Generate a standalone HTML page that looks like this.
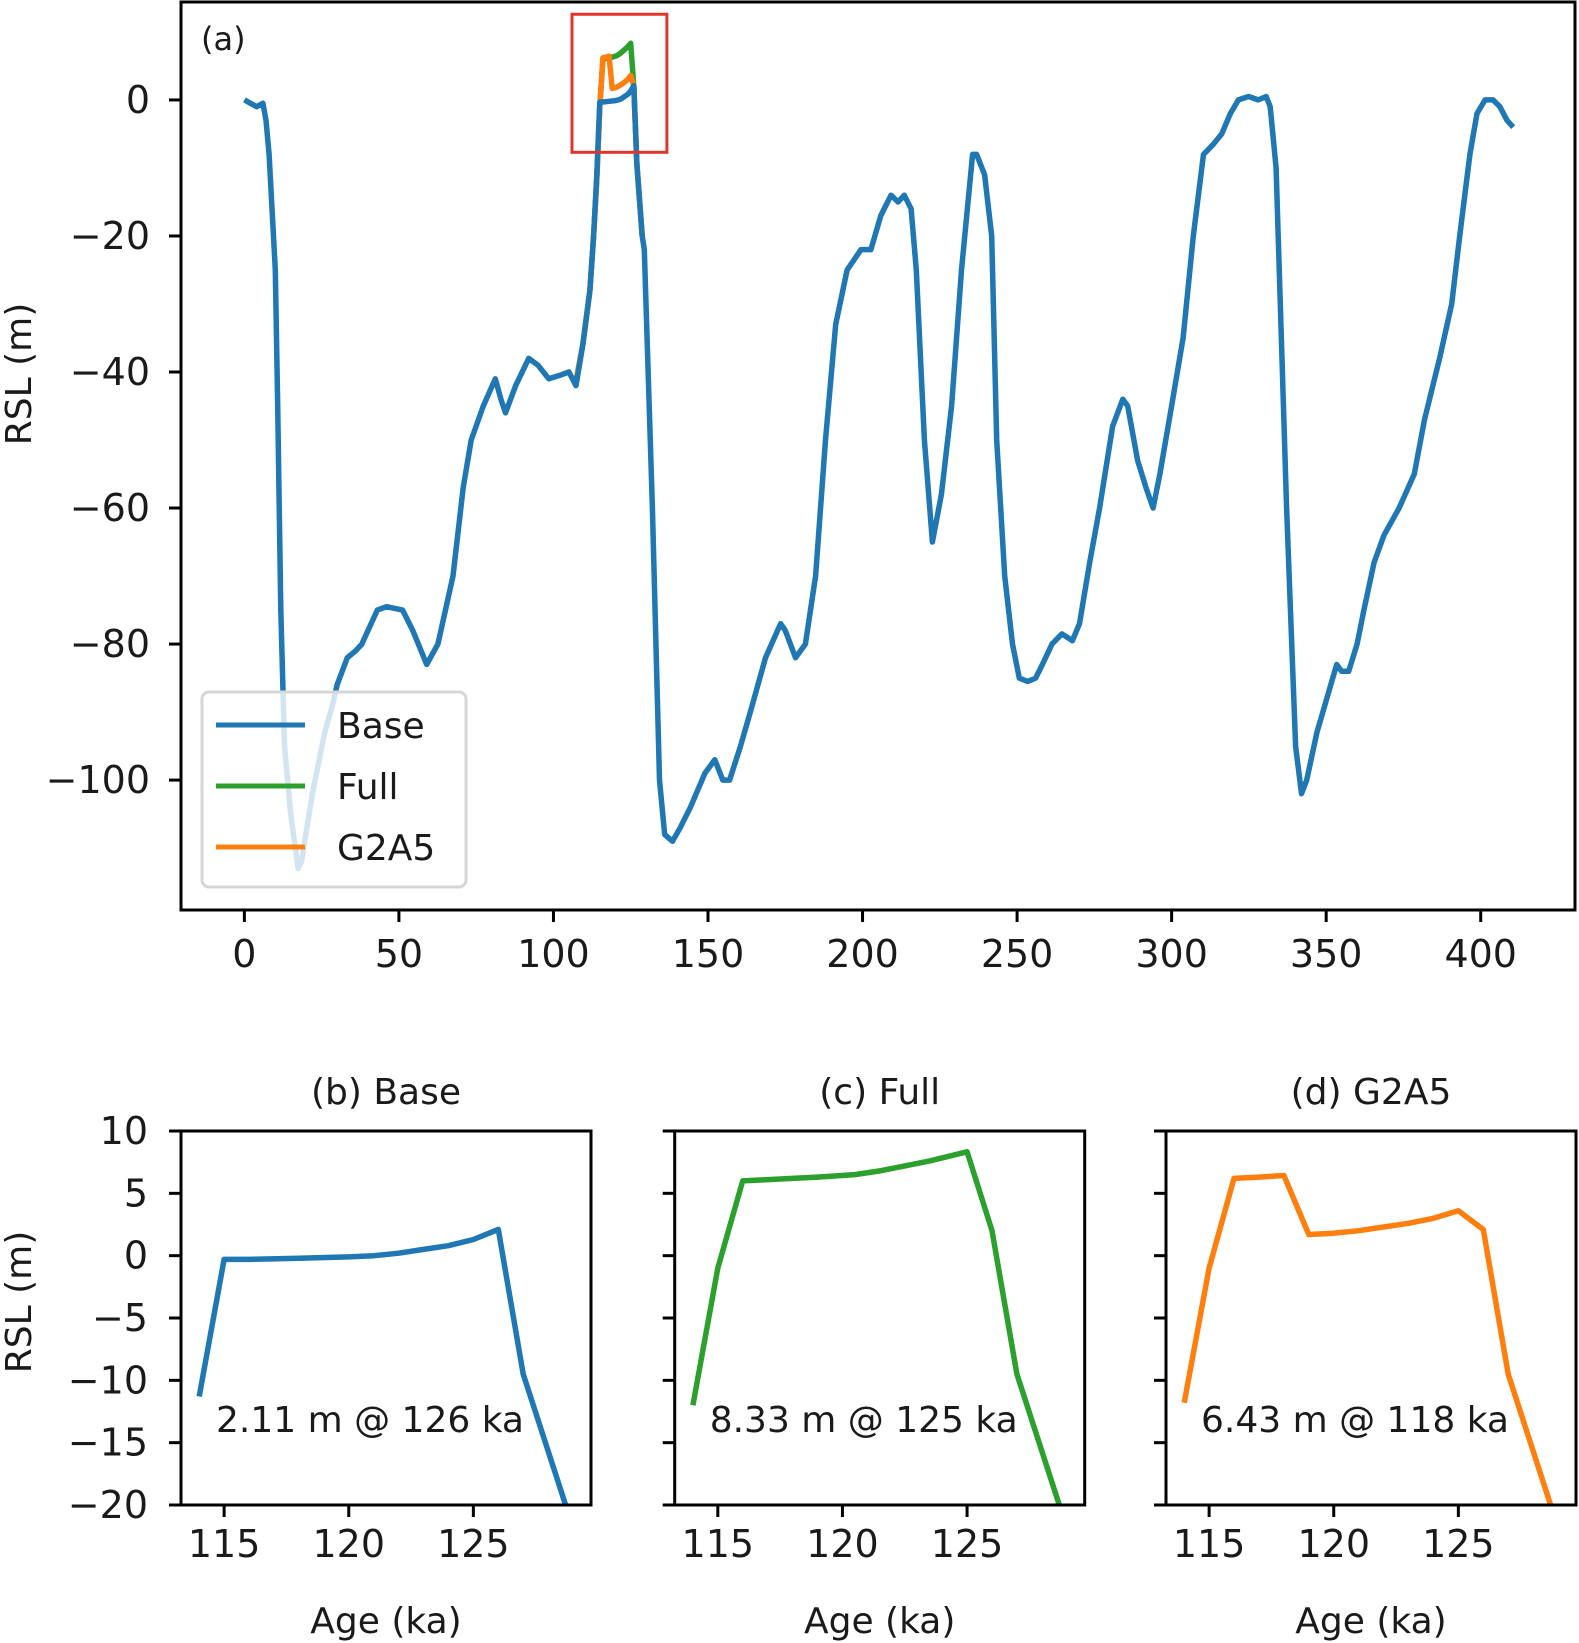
<!DOCTYPE html>
<html><head><meta charset="utf-8"><style>
html,body{margin:0;padding:0;background:#fff}
svg{display:block}
text{font-family:"DejaVu Sans","Liberation Sans",sans-serif;fill:#1a1a1a}
</style></head><body>
<svg id="fig" width="1579" height="1643" viewBox="0 0 1579 1643" xmlns="http://www.w3.org/2000/svg"></svg>
<script>
// ---- data ----
const baseAges=[0,2,4,6,7,8,10,10.8,11.8,13,15,17.4,18.5,22,26,28.5,30,33.3,36,38,43,46,51.2,54.5,59,62.6,67.5,70.8,73.4,77.3,81.2,83,84.5,87.8,92,95,98.5,102,105,107.3,109.5,111.8,113,114,115,116,118,120,121,122,123,124,125,126,127,128.7,129.4,132,134.3,136,138.5,141,144.3,149,152.2,154.8,157,160.5,163.7,168.6,173.5,175,178.3,181.5,184.8,188,191.3,195,199.5,202.7,205.9,209.2,211.5,213.5,215.7,217.4,220,222.6,225.5,228.8,232,235.6,236.9,239.5,241.8,243.4,246,248.5,250.7,253.4,256,258.2,261.3,264.5,267.9,270.2,273.5,276.7,280.9,284.2,285.8,289,291.7,294,296.2,300,303.7,307,310.3,313.5,316.2,319,321.6,324.9,328,330.6,331.9,333.8,337.2,340.1,342,343.7,347,350.2,353.4,355,357.3,360,362.2,365.5,368.7,373.6,378.5,381.8,386.7,390.6,393.2,396.5,398.8,401.4,404,406.2,408.5,410.5];
const baseVals=[0,-0.5,-1,-0.5,-3,-8,-25,-45,-75,-95,-105,-113,-112,-102,-93,-89,-86,-82,-81,-80,-75,-74.5,-75,-78,-83,-80,-70,-57,-50,-45,-41,-44,-46,-42,-38,-39,-41,-40.5,-40,-42,-36,-28,-20,-11.3,-0.3,-0.3,-0.2,-0.1,0,0.2,0.5,0.8,1.3,2.11,-9.5,-20,-22,-60,-100,-108,-109,-107,-104,-99,-97,-100,-100,-95,-90,-82,-77,-78,-82,-80,-70,-50,-33,-25,-22,-22,-17,-14,-15,-14,-16,-25,-50,-65,-58,-45,-25,-8,-8,-11,-20,-50,-70,-80,-85,-85.5,-85,-83,-80,-78.5,-79.5,-77,-68,-60,-48,-44,-45,-53,-57,-60,-55,-45,-35,-20,-8,-6.5,-5,-2,0,0.5,0,0.5,-1,-10,-60,-95,-102,-100,-93,-88,-83,-84,-84,-80,-75,-68,-64,-60,-55,-47,-38,-30,-20,-8,-2,0,0,-1,-3,-4];
const fullAges=[107,109.5,111.8,113,114,115,116,117,119,120.5,121.5,122.5,123.5,125,126,127,128.7];
const fullVals=[-42,-36,-28,-20,-12,-1,6,6.1,6.3,6.5,6.8,7.2,7.6,8.33,2,-9.5,-20];
const g2Ages=[107,109.5,111.8,113,114,115,116,117,118,119,120,121,122,123,124,125,126,127,128.7];
const g2Vals=[-42,-36,-28,-20,-11.8,-1,6.2,6.3,6.43,1.7,1.8,2.0,2.3,2.6,3.0,3.6,2.1,-9.5,-20];
const mainXTicks=[0,50,100,150,200,250,300,350,400];
const mainYTicks=[0,-20,-40,-60,-80,-100];
const insetXTicks=[115,120,125];
const insetYTicks=[10,5,0,-5,-10,-15,-20];
const annotations=["2.11 m @ 126 ka","8.33 m @ 125 ka","6.43 m @ 118 ka"];
const titles=["(b) Base","(c) Full","(d) G2A5"];

const NS="http://www.w3.org/2000/svg";
const svg=document.getElementById('fig');
function el(tag,attrs,parent,txt){const e=document.createElementNS(NS,tag);for(const k in attrs)e.setAttribute(k,attrs[k]);if(txt!==undefined)e.textContent=txt;(parent||svg).appendChild(e);return e;}
function fmt(v){return v<0?'\u2212'+Math.abs(v):String(v);}
function pathD(xs,ys,sx,sy){return xs.map((x,i)=>(i?'L':'M')+sx(x).toFixed(1)+','+sy(ys[i]).toFixed(1)).join('');}

// ---- main panel ----
const M={l:181,r:1575,t:2,b:910,x0:-20.5,x1:430.5,y0:-119.1,y1:14.4};
const mx=v=>M.l+(v-M.x0)/(M.x1-M.x0)*(M.r-M.l);
const my=v=>M.b-(v-M.y0)/(M.y1-M.y0)*(M.b-M.t);
const gA=el('g',{});

el('defs',{},gA).innerHTML='<clipPath id="cA"><rect x="181" y="2" width="1394" height="908"/></clipPath>';
const lines=el('g',{'clip-path':'url(#cA)'},gA);
let p=el('path',{d:pathD(fullAges,fullVals,mx,my),fill:'none',stroke:'#2ca02c','stroke-width':5.5,'stroke-linejoin':'round'},lines);

p=el('path',{d:pathD(g2Ages,g2Vals,mx,my),fill:'none',stroke:'#ff7f0e','stroke-width':5.5,'stroke-linejoin':'round'},lines);

p=el('path',{d:pathD(baseAges,baseVals,mx,my),fill:'none',stroke:'#1f77b4','stroke-width':5.5,'stroke-linejoin':'round'},lines);

p=el('rect',{x:mx(106),y:my(12.6),width:mx(136.7)-mx(106),height:my(-7.7)-my(12.6),fill:'none',stroke:'#e0352b','stroke-width':3},gA);

p=el('rect',{x:M.l,y:M.t,width:M.r-M.l,height:M.b-M.t,fill:'none',stroke:'#000','stroke-width':3},gA);

mainXTicks.forEach(v=>{const x=mx(v);el('line',{x1:x,x2:x,y1:M.b,y2:M.b+12,stroke:'#000','stroke-width':3},gA);
 const t=el('text',{x:x,y:967,'font-size':38,'text-anchor':'middle'},gA,fmt(v));
 });
mainYTicks.forEach(v=>{const y=my(v);el('line',{x1:M.l-12,x2:M.l,y1:y,y2:y,stroke:'#000','stroke-width':3},gA);
 const t=el('text',{x:150,y:y+13,'font-size':38,'text-anchor':'end'},gA,fmt(v));
 });
p=el('text',{x:0,y:0,'font-size':36,'text-anchor':'middle',transform:'translate(31,374) rotate(-90)'},gA,'RSL (m)');

p=el('text',{x:201,y:50,'font-size':32},gA,'(a)');

const lg=el('g',{},gA);

el('rect',{x:202,y:692,width:264,height:195,rx:7,fill:'#fff','fill-opacity':0.8,stroke:'#d6d6d6','stroke-width':3},lg);
[['Base','#1f77b4',725],['Full','#2ca02c',786],['G2A5','#ff7f0e',847]].forEach(e=>{
 const g=el('g',{},lg);
 
 el('line',{x1:216,x2:305,y1:e[2],y2:e[2],stroke:e[1],'stroke-width':5},g);
 el('text',{x:337,y:e[2]+13,'font-size':36},g,e[0]);
});

// ---- inset panels ----
const insetData=[[baseAges,baseVals,'#1f77b4'],[fullAges,fullVals,'#2ca02c'],[g2Ages,g2Vals,'#ff7f0e']];
const lefts=[181,674.7,1166];
insetData.forEach((d,i)=>{
 const L=lefts[i],R=L+410,T=1131,B=1505,X0=113.27,X1=129.72,Y0=-20,Y1=10;
 const sx=v=>L+(v-X0)/(X1-X0)*(R-L), sy=v=>B-(v-Y0)/(Y1-Y0)*(B-T);
 const g=el('g',{});
 
 el('defs',{},g).innerHTML='<clipPath id="ci'+i+'"><rect x="'+L+'" y="'+T+'" width="'+(R-L)+'" height="'+(B-T)+'"/></clipPath>';
 const xs=[],ys=[];d[0].forEach((a,k)=>{if(a>=114&&a<=130){xs.push(a);ys.push(d[1][k]);}});
 const ln=el('path',{d:pathD(xs,ys,sx,sy),fill:'none',stroke:d[2],'stroke-width':5.5,'stroke-linejoin':'round','clip-path':'url(#ci'+i+')'},g);
 
 el('rect',{x:L,y:T,width:R-L,height:B-T,fill:'none',stroke:'#000','stroke-width':3},g);
 insetXTicks.forEach(v=>{const x=sx(v);el('line',{x1:x,x2:x,y1:B,y2:B+12,stroke:'#000','stroke-width':3},g);
  const t=el('text',{x:x,y:1557,'font-size':38,'text-anchor':'middle'},g,String(v));
  });
 insetYTicks.forEach(v=>{const y=sy(v);el('line',{x1:L-12,x2:L,y1:y,y2:y,stroke:'#000','stroke-width':3},g);
  if(i===0){const t=el('text',{x:148,y:y+13,'font-size':38,'text-anchor':'end'},g,fmt(v));
  }});
 let t=el('text',{x:(L+R)/2,y:1104,'font-size':36,'text-anchor':'middle'},g,titles[i]);
 
 t=el('text',{x:(L+R)/2,y:1633,'font-size':36,'text-anchor':'middle'},g,'Age (ka)');
 
 t=el('text',{x:L+35,y:1432,'font-size':36,fill:'#262626'},g,annotations[i]);
 
});
p=el('text',{x:0,y:0,'font-size':36,'text-anchor':'middle',transform:'translate(31,1302) rotate(-90)'},svg,'RSL (m)');

</script>
</body></html>
